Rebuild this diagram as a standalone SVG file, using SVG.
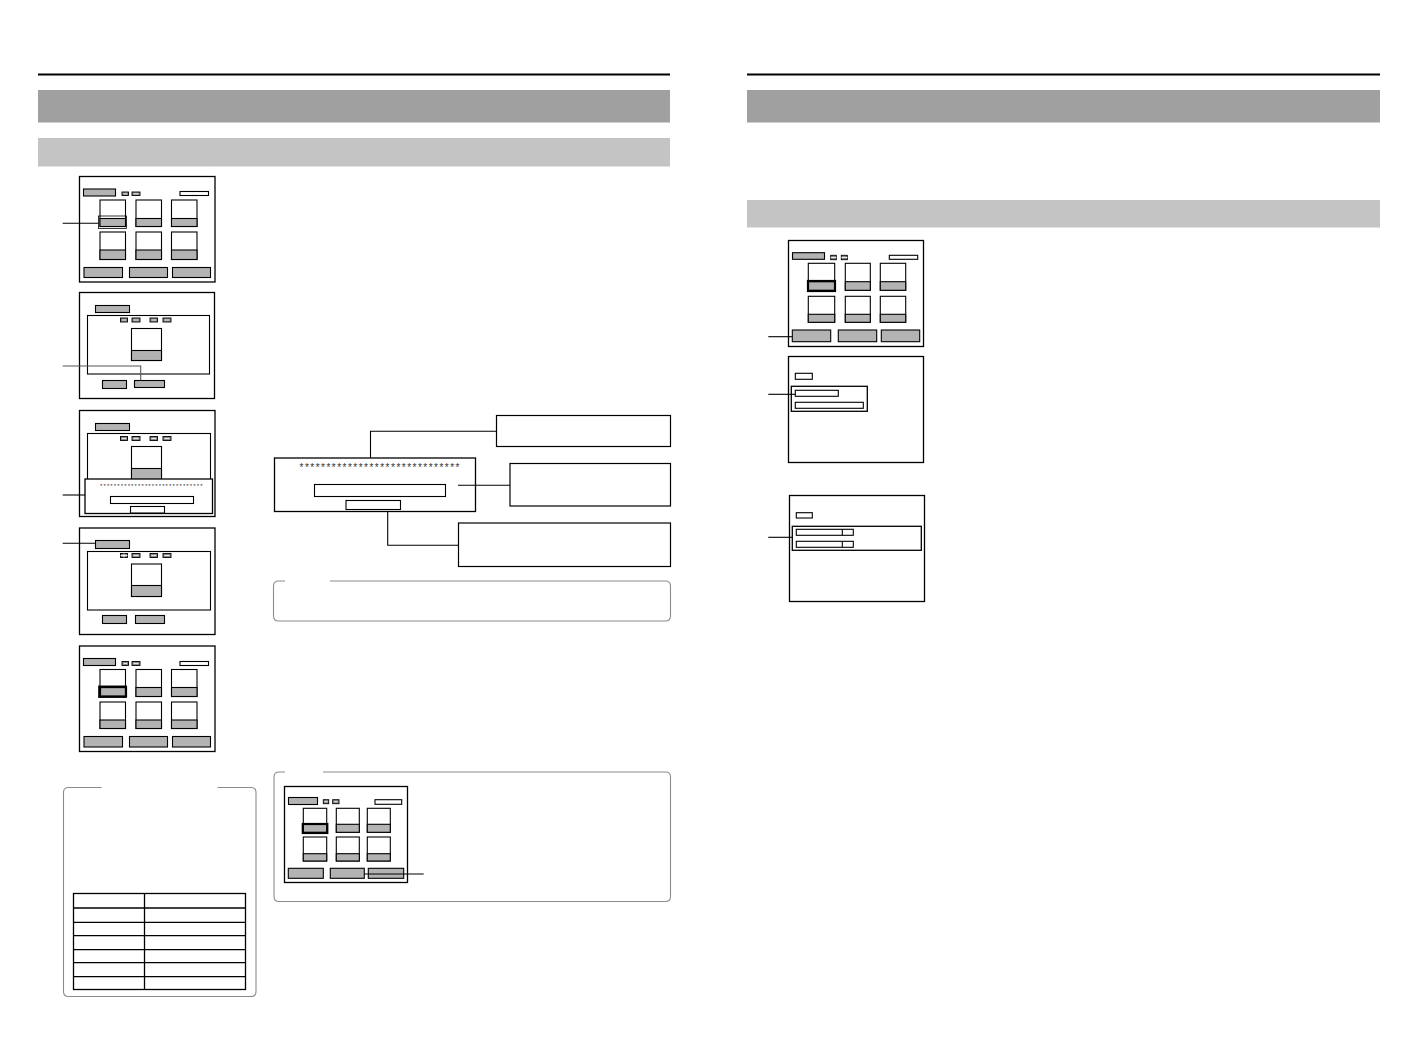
<svg xmlns="http://www.w3.org/2000/svg" width="1418" height="1055" viewBox="0 0 1418 1055">
<style>
.scr{fill:#fff;stroke:#000;stroke-width:1.3}
.w{fill:#fff;stroke:#000;stroke-width:1.1}
.g{fill:#b3b3b3;stroke:#000;stroke-width:1.1}
.ic{fill:#8a8a8a;stroke:#000;stroke-width:0.9}
.icl{stroke:#fff;stroke-width:0.8}
.hl{fill:none;stroke:#000;stroke-width:2.2}
.thin{fill:none;stroke:#000;stroke-width:0.8}
.ld{fill:none;stroke:#000;stroke-width:1.1}
.box{fill:#fff;stroke:#000;stroke-width:1.2}
.rb{fill:none;stroke:#8c8c8c;stroke-width:1.1}
.ast{font-family:"Liberation Sans",Arial,sans-serif;fill:#333}
.tb{fill:none;stroke:#000;stroke-width:1.3}
</style>
<rect width="1418" height="1055" fill="#fff"/>

<g id="page-left-header">
<line x1="38" y1="74.5" x2="670" y2="74.5" stroke="#000" stroke-width="2"/>
<rect x="38" y="90" width="632" height="32.5" fill="#a0a0a0"/>
<rect x="38" y="138" width="632" height="28.5" fill="#c4c4c4"/>
</g>
<g id="page-right-header">
<line x1="747" y1="74.5" x2="1380" y2="74.5" stroke="#000" stroke-width="2"/>
<rect x="747" y="90" width="633" height="32.5" fill="#a0a0a0"/>
<rect x="747" y="200" width="633" height="27.5" fill="#c4c4c4"/>
</g>

<!-- Screen 1 -->
<g id="screen1">
<rect class="scr" x="79.5" y="176.5" width="135.5" height="105.5"/>
<rect class="g" x="83.5" y="189" width="32" height="7"/>
<rect class="ic" x="122" y="192" width="6.5" height="3.5"/><line class="icl" x1="123.5" y1="193.8" x2="127" y2="193.8"/>
<rect class="ic" x="132" y="192" width="8" height="3.5"/><line class="icl" x1="133.5" y1="193.8" x2="138.5" y2="193.8"/>
<rect class="w" x="180" y="191.5" width="28.5" height="4"/>
<rect class="w" x="100" y="200" width="25.5" height="26.5"/><rect class="g" x="100" y="218.5" width="25.5" height="8"/>
<rect class="w" x="136" y="200" width="25.5" height="26.5"/><rect class="g" x="136" y="218.5" width="25.5" height="8"/>
<rect class="w" x="171.5" y="200" width="25.5" height="26.5"/><rect class="g" x="171.5" y="218.5" width="25.5" height="8"/>
<rect class="w" x="100" y="232" width="25.5" height="27.5"/><rect class="g" x="100" y="250" width="25.5" height="9.5"/>
<rect class="w" x="136" y="232" width="25.5" height="27.5"/><rect class="g" x="136" y="250" width="25.5" height="9.5"/>
<rect class="w" x="171.5" y="232" width="25.5" height="27.5"/><rect class="g" x="171.5" y="250" width="25.5" height="9.5"/>
<rect class="thin" x="98.5" y="216" width="28" height="12.5"/>
<rect class="g" x="84" y="267.5" width="38.5" height="10"/>
<rect class="g" x="129.5" y="267.5" width="38" height="10"/>
<rect class="g" x="172.5" y="267.5" width="38" height="10"/>
</g>

<!-- Screen 2 -->
<g id="screen2">
<rect class="scr" x="79.5" y="292.5" width="135" height="106"/>
<rect class="g" x="95.5" y="305.5" width="34" height="7"/>
<rect class="w" x="87.5" y="315.5" width="122" height="58.5"/>
<rect class="ic" x="120.5" y="318" width="7" height="4"/><line class="icl" x1="122" y1="320" x2="126" y2="320"/>
<rect class="ic" x="132" y="318" width="8" height="4"/><line class="icl" x1="133.5" y1="320" x2="138.5" y2="320"/>
<rect class="ic" x="150" y="318" width="7.5" height="4"/><line class="icl" x1="151.5" y1="320" x2="156" y2="320"/>
<rect class="ic" x="163" y="318" width="8" height="4"/><line class="icl" x1="164.5" y1="320" x2="169.5" y2="320"/>
<rect class="w" x="131.5" y="328.5" width="30" height="32"/><rect class="g" x="131.5" y="350.5" width="30" height="10"/>
<rect class="g" x="102.5" y="380.5" width="24" height="8"/>
<rect class="g" x="134.5" y="380.5" width="30" height="7"/>
</g>

<!-- Screen 3 -->
<g id="screen3">
<rect class="scr" x="79.5" y="410.5" width="135.5" height="106"/>
<rect class="g" x="95.5" y="423.5" width="34" height="7"/>
<rect class="w" x="87.5" y="433.5" width="123" height="50"/>
<rect class="ic" x="120.5" y="436.5" width="7" height="4"/><line class="icl" x1="122" y1="438.5" x2="126" y2="438.5"/>
<rect class="ic" x="132" y="436.5" width="8" height="4"/><line class="icl" x1="133.5" y1="438.5" x2="138.5" y2="438.5"/>
<rect class="ic" x="150" y="436.5" width="7.5" height="4"/><line class="icl" x1="151.5" y1="438.5" x2="156" y2="438.5"/>
<rect class="ic" x="163" y="436.5" width="8" height="4"/><line class="icl" x1="164.5" y1="438.5" x2="169.5" y2="438.5"/>
<rect class="w" x="131.5" y="446.5" width="30" height="34"/><rect class="g" x="131.5" y="468.5" width="30" height="12"/>
<rect class="scr" x="85" y="479" width="127.5" height="34.5"/>
<text class="ast" x="100" y="488" font-size="6" textLength="102.5" lengthAdjust="spacing">******************************</text>
<rect class="w" x="110.5" y="496.5" width="83" height="7"/>
<rect class="w" x="130.5" y="506.5" width="34" height="6.5"/>
</g>

<!-- Screen 4 -->
<g id="screen4">
<rect class="scr" x="79.5" y="528" width="135.5" height="106.5"/>
<rect class="g" x="95.5" y="540.5" width="34" height="8"/>
<rect class="w" x="87.5" y="551.5" width="123" height="58.5"/>
<rect class="ic" x="120.5" y="553.5" width="7" height="4"/><line class="icl" x1="124" y1="553.5" x2="124" y2="557.5"/><line class="icl" x1="120.5" y1="555.5" x2="127.5" y2="555.5"/>
<rect class="ic" x="132" y="553.5" width="8" height="4"/><line class="icl" x1="133.5" y1="555.5" x2="138.5" y2="555.5"/>
<rect class="ic" x="150" y="553.5" width="7.5" height="4"/><line class="icl" x1="151.5" y1="555.5" x2="156" y2="555.5"/>
<rect class="ic" x="163" y="553.5" width="8" height="4"/><line class="icl" x1="164.5" y1="555.5" x2="169.5" y2="555.5"/>
<rect class="w" x="131.5" y="564" width="30" height="32.5"/><rect class="g" x="131.5" y="585.5" width="30" height="11"/>
<rect class="g" x="102.5" y="615.5" width="24" height="8"/>
<rect class="g" x="135.5" y="615.5" width="29" height="8"/>
</g>

<!-- Screen 5 -->
<g id="screen5">
<rect class="scr" x="79.5" y="646" width="135.5" height="105.5"/>
<rect class="g" x="83.5" y="658.5" width="32" height="7"/>
<rect class="ic" x="122" y="661.5" width="6.5" height="4"/><line class="icl" x1="123.5" y1="663.5" x2="127" y2="663.5"/>
<rect class="ic" x="132" y="661.5" width="8" height="4"/><line class="icl" x1="133.5" y1="663.5" x2="138.5" y2="663.5"/>
<rect class="w" x="180" y="661.5" width="28.5" height="4"/>
<rect class="w" x="100" y="669.5" width="25.5" height="27"/><rect class="g" x="100" y="687.5" width="25.5" height="9"/>
<rect class="w" x="136" y="669.5" width="25.5" height="27"/><rect class="g" x="136" y="687.5" width="25.5" height="9"/>
<rect class="w" x="171.5" y="669.5" width="25.5" height="27"/><rect class="g" x="171.5" y="687.5" width="25.5" height="9"/>
<rect class="w" x="100" y="702" width="25.5" height="26.5"/><rect class="g" x="100" y="720" width="25.5" height="8.5"/>
<rect class="w" x="136" y="702" width="25.5" height="26.5"/><rect class="g" x="136" y="720" width="25.5" height="8.5"/>
<rect class="w" x="171.5" y="702" width="25.5" height="26.5"/><rect class="g" x="171.5" y="720" width="25.5" height="8.5"/>
<rect class="hl" x="100" y="687" width="26" height="9.5"/>
<rect class="thin" x="98.5" y="686" width="28" height="11.5"/>
<rect class="g" x="84" y="736.5" width="38.5" height="10.5"/>
<rect class="g" x="129.5" y="736.5" width="38" height="10.5"/>
<rect class="g" x="172.5" y="736.5" width="38" height="10.5"/>
</g>

<!-- Callout dialog -->
<g id="dialog">
<rect class="scr" x="274.5" y="458" width="201" height="53.5"/>
<text class="ast" x="299.5" y="471" font-size="10" textLength="160" lengthAdjust="spacing">******************************</text>
<rect class="w" x="314.5" y="484.5" width="131" height="12"/>
<rect class="w" x="346" y="500.5" width="54.5" height="9"/>
</g>
<g id="callout1"><rect class="box" x="496.5" y="415.5" width="174" height="31"/></g>
<g id="callout2"><rect class="box" x="510" y="463.5" width="160.5" height="42.5"/></g>
<g id="callout3"><rect class="box" x="458.5" y="523" width="212" height="43.5"/></g>

<!-- Note box -->
<g id="note1">
<path class="rb" d="M285,581 H278.5 Q273.5,581 273.5,586 V616 Q273.5,621 278.5,621 H665.5 Q670.5,621 670.5,616 V586 Q670.5,581 665.5,581 H330"/>
</g>

<!-- Bottom-left box with table -->
<g id="tablebox">
<path class="rb" d="M101.5,787.5 H68.5 Q63.5,787.5 63.5,792.5 V991.5 Q63.5,996.5 68.5,996.5 H251 Q256,996.5 256,991.5 V792.5 Q256,787.5 251,787.5 H217.5"/>
<rect class="tb" x="73.5" y="893.5" width="172" height="96"/>
<line class="tb" x1="144.5" y1="893.5" x2="144.5" y2="989.5"/>
<line class="tb" x1="73.5" y1="908" x2="245.5" y2="908"/>
<line class="tb" x1="73.5" y1="922.3" x2="245.5" y2="922.3"/>
<line class="tb" x1="73.5" y1="935.7" x2="245.5" y2="935.7"/>
<line class="tb" x1="73.5" y1="949.7" x2="245.5" y2="949.7"/>
<line class="tb" x1="73.5" y1="962.7" x2="245.5" y2="962.7"/>
<line class="tb" x1="73.5" y1="976.7" x2="245.5" y2="976.7"/>
</g>

<!-- Bottom-center box with screen -->
<g id="note2">
<path class="rb" d="M285,772 H279 Q274,772 274,777 V896.5 Q274,901.5 279,901.5 H665.5 Q670.5,901.5 670.5,896.5 V777 Q670.5,772 665.5,772 H323"/>
</g>
<g id="screen6">
<rect class="scr" x="284.5" y="786.5" width="123" height="96"/>
<rect class="g" x="288.5" y="797.5" width="29" height="7"/>
<rect class="ic" x="323.3" y="799.7" width="5.4" height="4"/><line class="icl" x1="324.5" y1="801.7" x2="327.5" y2="801.7"/>
<rect class="ic" x="332.7" y="799.7" width="6.3" height="4"/><line class="icl" x1="334" y1="801.7" x2="337.7" y2="801.7"/>
<rect class="w" x="375" y="799.7" width="26.7" height="4.6"/>
<rect class="w" x="303.3" y="808.3" width="23.4" height="24"/><rect class="g" x="303.3" y="824.3" width="23.4" height="8"/>
<rect class="w" x="336.3" y="808.3" width="23" height="24"/><rect class="g" x="336.3" y="824.3" width="23" height="8"/>
<rect class="w" x="367.3" y="808.3" width="23" height="24"/><rect class="g" x="367.3" y="824.3" width="23" height="8"/>
<rect class="w" x="303.3" y="837" width="23.4" height="24"/><rect class="g" x="303.3" y="853.7" width="23.4" height="7.3"/>
<rect class="w" x="336.3" y="837" width="23" height="24"/><rect class="g" x="336.3" y="853.7" width="23" height="7.3"/>
<rect class="w" x="367.3" y="837" width="23" height="24"/><rect class="g" x="367.3" y="853.7" width="23" height="7.3"/>
<rect class="hl" x="302.8" y="824" width="24.5" height="9"/>
<rect class="g" x="288.3" y="868.3" width="35" height="10"/>
<rect class="g" x="330.3" y="868.3" width="34" height="10"/>
<rect class="g" x="368.3" y="868.3" width="35.4" height="10"/>
</g>

<!-- Right page screen A -->
<g id="screenA">
<rect class="scr" x="788.5" y="240.5" width="135" height="106"/>
<rect class="g" x="792.5" y="252.7" width="32" height="6.6"/>
<rect class="ic" x="830.7" y="255.3" width="5.6" height="4.4"/><line class="icl" x1="830.7" y1="257.5" x2="836.3" y2="257.5"/>
<rect class="ic" x="841.3" y="255.3" width="6" height="4.4"/><line class="icl" x1="841.3" y1="257.5" x2="847.3" y2="257.5"/>
<rect class="w" x="889.3" y="255.3" width="28.4" height="4"/>
<rect class="w" x="808.3" y="263.3" width="26.4" height="27"/><rect class="g" x="808.3" y="281.7" width="26.4" height="8.6"/>
<rect class="w" x="845.3" y="263.3" width="25" height="27"/><rect class="g" x="845.3" y="281.7" width="25" height="8.6"/>
<rect class="w" x="880.3" y="263.3" width="25.4" height="27"/><rect class="g" x="880.3" y="281.7" width="25.4" height="8.6"/>
<rect class="w" x="808.3" y="296.3" width="26.4" height="26"/><rect class="g" x="808.3" y="314.3" width="26.4" height="8"/>
<rect class="w" x="845.3" y="296.3" width="25" height="26"/><rect class="g" x="845.3" y="314.3" width="25" height="8"/>
<rect class="w" x="880.3" y="296.3" width="25.4" height="26"/><rect class="g" x="880.3" y="314.3" width="25.4" height="8"/>
<rect class="hl" x="808" y="281" width="27" height="10"/>
<rect class="g" x="792.3" y="330" width="38.4" height="11.7"/>
<rect class="g" x="838.3" y="330" width="38.4" height="11.7"/>
<rect class="g" x="881.3" y="330" width="38.4" height="11.7"/>
</g>

<!-- Right page screen B -->
<g id="screenB">
<rect class="scr" x="788.5" y="356.5" width="135" height="106"/>
<rect class="w" x="795.3" y="373.3" width="17" height="6"/>
<rect class="scr" x="791.3" y="386.3" width="76" height="25"/>
<rect class="w" x="795.3" y="390.3" width="43" height="6"/>
<rect class="w" x="795.3" y="402.3" width="68" height="6"/>
</g>

<!-- Right page screen C -->
<g id="screenC">
<rect class="scr" x="789.5" y="495.5" width="135" height="106"/>
<rect class="w" x="796.3" y="512.7" width="16" height="5.3"/>
<rect class="scr" x="792.3" y="526.3" width="129" height="24"/>
<rect class="w" x="796.3" y="529.3" width="57" height="6"/><line class="ld" x1="842.3" y1="529.3" x2="842.3" y2="535.3"/>
<rect class="w" x="796.3" y="541.3" width="57" height="6"/><line class="ld" x1="842.3" y1="541.3" x2="842.3" y2="547.3"/>
</g>

<g id="connectors">
<line class="ld" x1="62.7" y1="223.3" x2="98.5" y2="223.3"/>
<polyline points="62.7,366 140.7,366 140.7,380.5" fill="none" stroke="#555" stroke-width="1.1"/>
<line class="ld" x1="62.7" y1="495" x2="85" y2="495"/>
<line class="ld" x1="62.7" y1="543.3" x2="95.5" y2="543.3"/>
<polyline class="ld" points="370.5,458 370.5,431.3 496.5,431.3"/>
<line class="ld" x1="458" y1="485.3" x2="510" y2="485.3"/>
<polyline class="ld" points="387.7,511.5 387.7,545.3 458.5,545.3"/>
<line class="ld" x1="364.3" y1="874" x2="423.7" y2="874"/>
<line class="ld" x1="768.3" y1="336.7" x2="792.3" y2="336.7"/>
<line class="ld" x1="768.3" y1="394.3" x2="795.3" y2="394.3"/>
<line class="ld" x1="768.3" y1="537.3" x2="792.3" y2="537.3"/>
</g>
</svg>
